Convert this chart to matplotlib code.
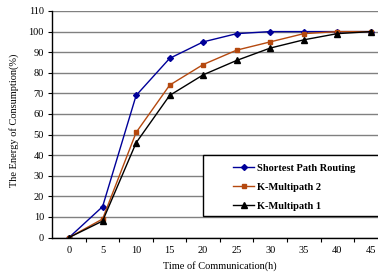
import matplotlib
matplotlib.use("Agg")
import matplotlib.pyplot as plt
from matplotlib.patches import Rectangle

time_h = [0, 5, 10, 15, 20, 25, 30, 35, 40, 45]
shortest = [0, 15, 69, 87, 95, 99, 100, 100, 100, 100]
kmulti2 = [0, 9, 51, 74, 84, 91, 95, 99, 100, 100]
kmulti1 = [0, 8, 46, 69, 79, 86, 92, 96, 99, 100]
yticks = list(range(0, 111, 10))

plt.rcParams['font.family'] = ['Liberation Serif', 'DejaVu Serif']

W, H = 378, 273
fig = plt.figure(figsize=(W/100, H/100), dpi=100)
x0, x1 = 52.3, 387.6
y_top, y_bot = 11, 237.5
ax = fig.add_axes([x0/W, 1 - y_bot/H, (x1 - x0)/W, (y_bot - y_top)/H])

ax.set_xlim(-2.5, 47.5)
ax.set_ylim(0, 110)
ax.set_yticks(yticks)
ax.set_xticks(time_h)
ax.set_xticks([t + 2.5 for t in time_h], minor=True)
ax.tick_params(axis='x', which='major', length=0, labelsize=7.5, pad=6)
ax.tick_params(axis='x', which='minor', length=3, width=0.8, direction='out')
ax.tick_params(axis='y', which='major', length=3, width=0.8, direction='out', labelsize=7.5, pad=3)
for s in ['top', 'right']:
    ax.spines[s].set_visible(False)
for s in ['left', 'bottom']:
    ax.spines[s].set_linewidth(1.0)
    ax.spines[s].set_color('black')
ax.set_axisbelow(True)
ax.grid(axis='y', color='#808080', linewidth=1.0)

l1, = ax.plot(time_h, shortest, color='#000099', marker='D', markersize=3, linewidth=1.0, label='Shortest Path Routing')
l2, = ax.plot(time_h, kmulti2, color='#B5490F', marker='s', markersize=3.5, linewidth=1.0, label='K-Multipath 2')
l3, = ax.plot(time_h, kmulti1, color='black', marker='^', markersize=4, linewidth=1.0, label='K-Multipath 1')

ax.set_xlabel('Time of Communication(h)', fontsize=7.5)
ax.set_ylabel('The Energy of Consumption(%)', fontsize=7.5, labelpad=4)
ax.xaxis.set_label_coords((220 - x0)/(x1 - x0), -(266 - y_bot)/(y_bot - y_top))
ax.xaxis.label.set_va('center')
ax.yaxis.set_label_coords(-(x0 - 14)/(x1 - x0), (y_bot - 120)/(y_bot - y_top))
ax.yaxis.label.set_va('center')

# legend box
rect = Rectangle((203/W, 1 - 216/H), 200/W, 61/H, transform=fig.transFigure,
                 facecolor='white', edgecolor='black', linewidth=1.0, zorder=5)
fig.patches.append(rect)
leg = fig.legend(handles=[l1, l2, l3], loc='upper left',
                 bbox_to_anchor=(225/W, 1 - 155/H), frameon=False,
                 prop={'size': 7.5, 'weight': 'bold'}, handlelength=2.0,
                 handletextpad=0.3, labelspacing=0.95, borderpad=0.3)
leg.set_zorder(6)

fig.savefig('out.png', dpi=100)
